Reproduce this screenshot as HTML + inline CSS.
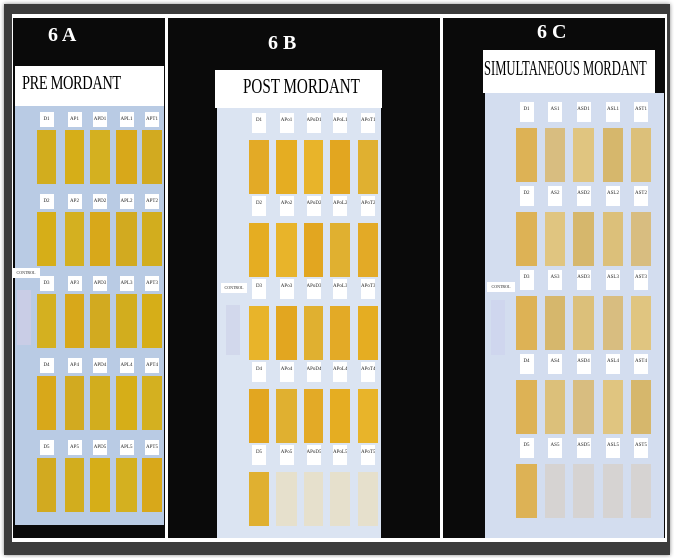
<!DOCTYPE html><html><head><style>
body{margin:0;width:674px;height:558px;background:#fff;position:relative;overflow:hidden;font-family:"Liberation Serif",serif}
div{position:absolute;box-sizing:border-box}
.t{background:#fff;color:#000;text-align:center;font-family:"Liberation Serif",serif;transform-origin:center;white-space:nowrap}
.l{background:#fff;font-size:5px;text-align:center;line-height:16px;color:#222;overflow:hidden}
h{}
</style></head><body>
<div style="left:4px;top:4px;width:666px;height:551px;background:#3c3c3c;box-shadow:0 0 4px #888"></div>
<div style="left:12px;top:14px;width:655px;height:528px;background:#fff"></div>
<div style="left:13px;top:18px;width:152px;height:520px;background:#0a0a0a"></div>
<div style="left:168px;top:18px;width:272px;height:520px;background:#0a0a0a"></div>
<div style="left:443px;top:18px;width:222px;height:520px;background:#0a0a0a"></div>
<div style="left:48px;top:24px;color:#fff;font-weight:bold;font-size:20px">6 A</div>
<div style="left:268px;top:32px;color:#fff;font-weight:bold;font-size:20px">6 B</div>
<div style="left:537px;top:21px;color:#fff;font-weight:bold;font-size:20px">6 C</div>
<div style="left:15px;top:66px;width:149px;height:40px;background:#fff"></div>
<div style="left:15px;top:106px;width:149px;height:419px;background:#b9cbe4"></div>
<div style="left:215px;top:70px;width:167px;height:38px;background:#fff"></div>
<div style="left:217px;top:108px;width:164px;height:430px;background:#dbe4f2"></div>
<div style="left:483px;top:50px;width:172px;height:43px;background:#fff"></div>
<div style="left:485px;top:93px;width:179px;height:445px;background:#d3ddef"></div>
<div style="left:22px;top:72px;font-size:20px;transform:scaleX(0.72);transform-origin:left;letter-spacing:-0.5px">PRE MORDANT</div>
<div style="left:243px;top:74px;font-size:21px;transform:scaleX(0.72);transform-origin:left">POST MORDANT</div>
<div style="left:484px;top:56px;font-size:21px;transform:scaleX(0.6);transform-origin:left;white-space:nowrap">SIMULTANEOUS MORDANT</div>
<div id="g"></div>
<script>
var g=document.getElementById('g'),h='';
function P(cols,t0,pitch,lt,labs,cfn,lh){
 for(var r=0;r<5;r++)for(var c=0;c<5;c++){var x=cols[c][0],w=cols[c][1]-x;var y=t0+r*pitch;
  h+='<div style="left:'+x+'px;top:'+y+'px;width:'+w+'px;height:54px;background:'+cfn(r,c)+'"></div>';
  h+='<div class="l" style="left:'+(x+w/2-7)+'px;top:'+(y-lt)+'px;width:14px;height:'+lh+'px">'+labs[c]+(r+1)+'</div>';}
}
P([[37,56],[65,84],[90,110],[116,137],[142,162]],130,82,18,['D','AP','APD','APL','APT'],function(r,c){return ['#d2ad1e','#d6ae18','#d4b020','#d8a81a','#d2aa20'][(r+c)%5]},15);
P([[249,269],[276,297],[304,323],[330,350],[358,378]],140,83,27,['D','APo','APoD','APoL','APoT'],function(r,c){if(r==4&&c>0)return '#e6e0cc';return ['#e3aa26','#e5ad22','#e8b42a','#e2a620','#e0b030'][(r+c)%5]},20);
P([[516,537],[545,565],[573,594],[603,623],[631,651]],128,84,26,['D','AS','ASD','ASL','AST'],function(r,c){if(r==4&&c>0)return '#d6d3d2';if(c==0)return '#ddb255';return ['#dcc07a','#d8bd80','#e0c580','#d6b76c'][(r+c)%4]},20);
h+='<div class="l" style="left:12px;top:268px;width:28px;height:10px;line-height:10px;font-size:4px">CONTROL</div><div style="left:17px;top:290px;width:14px;height:55px;background:#c9cde6"></div>';
h+='<div class="l" style="left:221px;top:283px;width:26px;height:10px;line-height:10px;font-size:4px">CONTROL</div><div style="left:226px;top:305px;width:14px;height:50px;background:#d2d8ec"></div>';
h+='<div class="l" style="left:487px;top:282px;width:28px;height:10px;line-height:10px;font-size:4px">CONTROL</div><div style="left:491px;top:300px;width:14px;height:55px;background:#cfd6ee"></div>';
g.innerHTML=h;
</script>
</body></html>
